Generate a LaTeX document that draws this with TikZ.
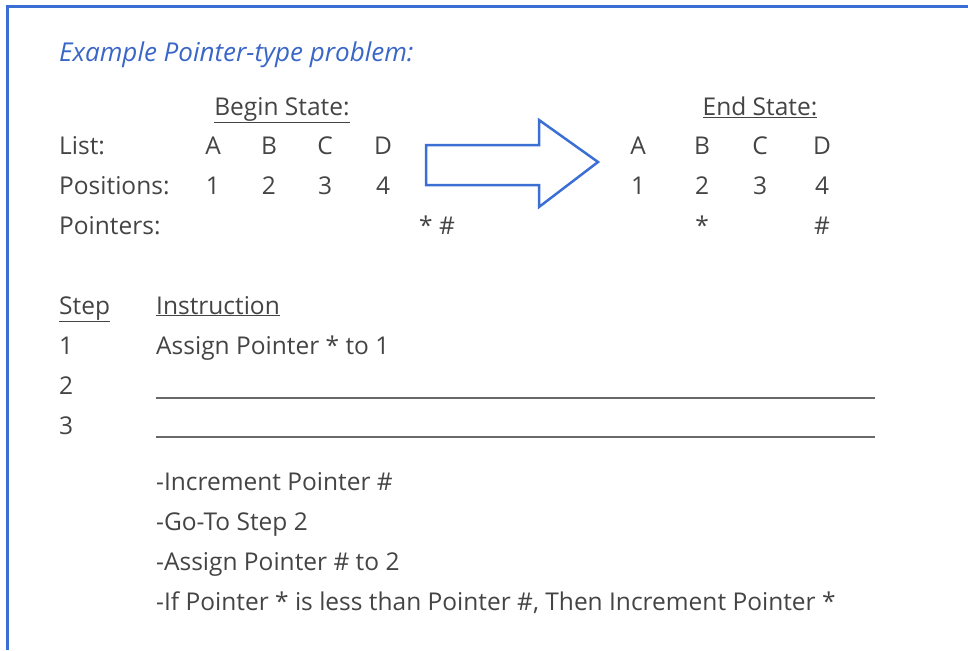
\documentclass[tikz,border=0pt]{standalone}
\usepackage{fontspec}
\setmainfont{Open Sans}
\definecolor{ink}{HTML}{444444}
\definecolor{frameblue}{HTML}{3B6FD4}
\definecolor{titleblue}{HTML}{3A66C8}
\begin{document}
\begin{tikzpicture}[x=1pt,y=-1pt,
  txt/.style={inner sep=0pt,anchor=base west,text=ink,font=\fontsize{24.5}{28}\selectfont},
  ctxt/.style={inner sep=0pt,anchor=base,text=ink,font=\fontsize{24.5}{28}\selectfont},
  blankline/.style={draw=ink!80,line width=1.3pt}]
\useasboundingbox (0,0) rectangle (968,650);
% frame
\draw[frameblue,line width=3pt] (7,650) -- (7,6.5) -- (968,6.5);
% title
\node[inner sep=0pt,anchor=base west,text=titleblue,font=\fontsize{26}{30}\selectfont\itshape] (title) at (59,62) {Example Pointer-type problem:};
% headings
\node[ctxt] (begin) at (282,115) {\underline{Begin State:}};
\node[ctxt] (end) at (760,115) {\underline{End State:}};
% row labels
\node[txt] (list) at (59,154) {List:};
\node[txt] (pos) at (59,194) {Positions:};
\node[txt] (ptr) at (59,234) {Pointers:};
% begin state
\node[ctxt] (bA) at (213,154) {A};
\node[ctxt] (bB) at (269,154) {B};
\node[ctxt] (bC) at (325,154) {C};
\node[ctxt] (bD) at (383,154) {D};
\node[ctxt] (b1) at (213,194) {1};
\node[ctxt] (b2) at (269,194) {2};
\node[ctxt] (b3) at (325,194) {3};
\node[ctxt] (b4) at (383,194) {4};
\node[ctxt] (bp) at (437,234) {* \#};
% end state
\node[ctxt] (eA) at (638,154) {A};
\node[ctxt] (eB) at (702,154) {B};
\node[ctxt] (eC) at (760,154) {C};
\node[ctxt] (eD) at (822,154) {D};
\node[ctxt] (e1) at (638,194) {1};
\node[ctxt] (e2) at (702,194) {2};
\node[ctxt] (e3) at (760,194) {3};
\node[ctxt] (e4) at (822,194) {4};
\node[ctxt] (es) at (702,234) {*};
\node[ctxt] (eh) at (822,234) {\#};
% big arrow
\draw[frameblue,line width=2.5pt,line join=miter]
  (426,145) -- (539,145) -- (539,120) -- (598,162) -- (539,207) -- (539,185) -- (426,185) -- cycle;
% steps
\node[txt] (steph) at (59,314) {\underline{Step}};
\node[txt] (insth) at (156,314) {\underline{Instruction}};
\node[txt] (s1) at (59,354) {1};
\node[txt] (i1) at (156,354) {Assign Pointer * to 1};
\node[txt] (s2) at (59,394) {2};
\node[txt] (s3) at (59,434) {3};
\coordinate (l2a) at (156,398);
\coordinate (l2b) at (875,398);
\coordinate (l3a) at (156,437);
\coordinate (l3b) at (875,437);
\draw[blankline] (l2a) -- (l2b);
\draw[blankline] (l3a) -- (l3b);
% options
\node[txt] (o1) at (156,490) {-Increment Pointer \#};
\node[txt] (o2) at (156,530) {-Go-To Step 2};
\node[txt] (o3) at (156,570) {-Assign Pointer \# to 2};
\node[txt] (o4) at (156,610) {-If Pointer * is less than Pointer \#, Then Increment Pointer *};
\end{tikzpicture}
\end{document}
